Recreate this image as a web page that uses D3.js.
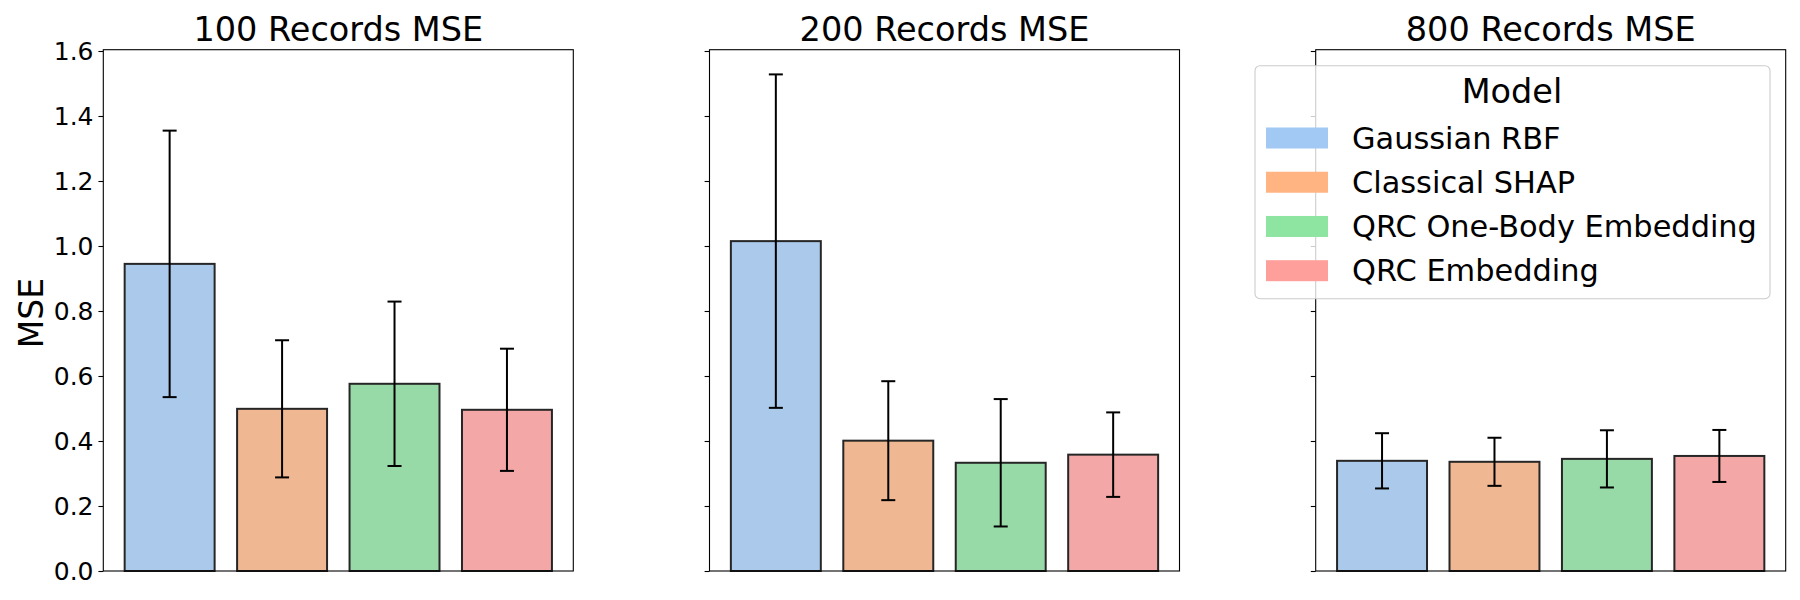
<!DOCTYPE html>
<html>
<head>
<meta charset="utf-8">
<script src="https://cdn.jsdelivr.net/npm/d3@7"></script>
<style>
  body { margin: 0; background: white; }
  text { font-family: "DejaVu Sans", sans-serif; }
</style>
</head>
<body>
<div id="chart"></div>
<script>
var models = ["Gaussian RBF", "Classical SHAP", "QRC One-Body Embedding", "QRC Embedding"]
var panelTitles = ["100 Records MSE", "200 Records MSE", "800 Records MSE"]
var mse100 = [0.945, 0.499, 0.576, 0.496]
var err100 = [0.410, 0.211, 0.253, 0.188]
var mse200 = [1.015, 0.401, 0.333, 0.358]
var err200 = [0.513, 0.183, 0.196, 0.130]
var mse800 = [0.339, 0.336, 0.345, 0.354]
var err800 = [0.085, 0.074, 0.088, 0.080]
var yTicks = [0.0, 0.2, 0.4, 0.6, 0.8, 1.0, 1.2, 1.4, 1.6]

var legendColors = ["#a1c9f4", "#ffb482", "#8de5a1", "#ff9f9b"]
// seaborn desaturated bar colours
var barColors = ["#abc9ea", "#efb792", "#98daa7", "#f3a8a7"]

var width = 1800, height = 600
var axTop = 49.7, axBottom = 571, axW = 470
var axLefts = [103.3, 709.5, 1315.7]

var svg = d3.select("#chart").append("svg")
    .attr("width", width)
    .attr("height", height)

var y = d3.scaleLinear().domain([0, 1.604]).range([axBottom, axTop])
var x = d3.scaleLinear().domain([-0.59, 3.59]).range([0, axW])

var panels = [
    {title: panelTitles[0], mse: mse100, err: err100},
    {title: panelTitles[1], mse: mse200, err: err200},
    {title: panelTitles[2], mse: mse800, err: err800}
]

panels.forEach(function(p, pi) {
    var g = svg.append("g").attr("transform", "translate(" + axLefts[pi] + ",0)")

    var data = models.map(function(m, i) { return {model: m, i: i, v: p.mse[i], e: p.err[i]} })

    g.selectAll("rect.bar")
        .data(data)
        .enter()
        .append("rect")
        .attr("class", "bar")
        .attr("x", function(d) { return x(d.i - 0.4) })
        .attr("width", x(0.8) - x(0))
        .attr("y", function(d) { return y(d.v) })
        .attr("height", function(d) { return y(0) - y(d.v) })
        .attr("fill", function(d) { return barColors[d.i] })
        .attr("stroke", "#262626")
        .attr("stroke-width", 2)

    // error bars
    var eb = g.selectAll("g.err")
        .data(data)
        .enter()
        .append("g")
        .attr("class", "err")
        .attr("stroke", "black")
        .attr("stroke-width", 2)
    eb.append("line")
        .attr("x1", function(d) { return x(d.i) })
        .attr("x2", function(d) { return x(d.i) })
        .attr("y1", function(d) { return y(d.v - d.e) })
        .attr("y2", function(d) { return y(d.v + d.e) })
    eb.append("line")
        .attr("x1", function(d) { return x(d.i) - 7 })
        .attr("x2", function(d) { return x(d.i) + 7 })
        .attr("y1", function(d) { return y(d.v + d.e) })
        .attr("y2", function(d) { return y(d.v + d.e) })
    eb.append("line")
        .attr("x1", function(d) { return x(d.i) - 7 })
        .attr("x2", function(d) { return x(d.i) + 7 })
        .attr("y1", function(d) { return y(d.v - d.e) })
        .attr("y2", function(d) { return y(d.v - d.e) })

    // y axis, labels only on the first panel
    var yAxis = d3.axisLeft(y).tickValues(yTicks).tickSize(4.9).tickPadding(4.9)
        .tickFormat(pi == 0 ? d3.format(".1f") : "")
    var ya = g.append("g").call(yAxis)
    ya.select(".domain").remove()
    ya.selectAll(".tick line").attr("stroke", "black").attr("stroke-width", 1.1)
    ya.selectAll(".tick text")
        .attr("fill", "black")
        .style("font-size", "25px")
        .style("font-family", "DejaVu Sans")

    // frame
    g.append("rect")
        .attr("x", 0)
        .attr("y", axTop)
        .attr("width", axW)
        .attr("height", axBottom - axTop)
        .attr("fill", "none")
        .attr("stroke", "black")
        .attr("stroke-width", 1.1)

    g.append("text")
        .attr("x", axW / 2)
        .attr("y", 41)
        .attr("text-anchor", "middle")
        .style("font-size", "33.5px")
        .text(p.title)
})

svg.append("text")
    .attr("transform", "translate(43,313) rotate(-90)")
    .attr("text-anchor", "middle")
    .style("font-size", "33px")
    .text("MSE")

// legend
var leg = svg.append("g")
leg.append("rect")
    .attr("x", 1255)
    .attr("y", 65.7)
    .attr("width", 515)
    .attr("height", 233)
    .attr("rx", 5)
    .attr("fill", "white")
    .attr("fill-opacity", 0.8)
    .attr("stroke", "#cccccc")
    .attr("stroke-width", 1.1)

leg.append("text")
    .attr("x", 1512)
    .attr("y", 103.3)
    .attr("text-anchor", "middle")
    .style("font-size", "33.5px")
    .text("Model")

var rowY = d3.scalePoint().domain(models).range([138, 270.7])

var items = leg.selectAll("g.item")
    .data(models)
    .enter()
    .append("g")
    .attr("class", "item")
items.append("rect")
    .attr("x", 1266)
    .attr("y", function(d) { return rowY(d) - 10.5 })
    .attr("width", 62)
    .attr("height", 21)
    .attr("fill", function(d, i) { return legendColors[i] })
items.append("text")
    .attr("x", 1352)
    .attr("y", function(d) { return rowY(d) + 10.5 })
    .style("font-size", "30.4px")
    .text(function(d) { return d })
</script>
</body>
</html>
